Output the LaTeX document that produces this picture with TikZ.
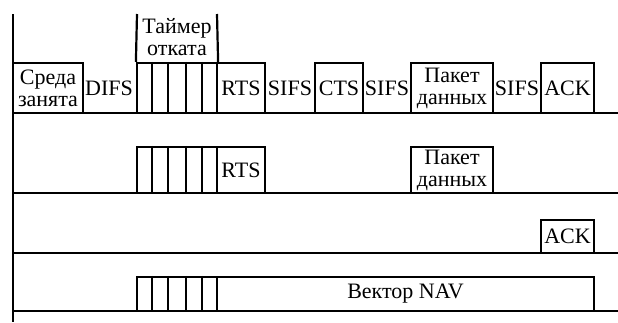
\documentclass[tikz,border=0pt]{standalone}
\usepackage{fontspec}
\setmainfont{Liberation Serif}
\usetikzlibrary{calc}
\begin{document}
\begin{tikzpicture}[x=1pt,y=-1pt,line width=2.2pt,
  txt/.style={inner sep=0pt,align=center,font=\fontsize{22}{22}\selectfont},
  box/.style={txt,draw},
  slotline/.style={line width=2pt}]
\useasboundingbox (0,0) rectangle (618,322);
% axis and baselines
\coordinate (vtop) at (13,14);
\coordinate (vbot) at (13,322);
\draw (vtop) -- (vbot);
\foreach \y/\n in {113/1,193/2,253/3,311/4}{
  \coordinate (bl\n) at (13,\y);
  \coordinate (br\n) at (618,\y);
  \draw (bl\n) -- (br\n);
}
% ---------- row 1 ----------
\node[box,minimum width=70,minimum height=50] (busy) at (48,88) {Среда\\занята};
\node[txt] (difs) at (109,88) {DIFS};
\node[box,minimum width=80,minimum height=50] (bo1) at (177,88) {};
\foreach \p in {0.2,0.39,0.61,0.8}
  \draw[slotline] ($(bo1.north west)!\p!(bo1.north east)$) -- ($(bo1.south west)!\p!(bo1.south east)$);
\coordinate (tl) at (137,14);
\coordinate (tr) at (217,14);
\draw (tl) -- (bo1.north west);
\draw (tr) -- (bo1.north east);
\node[txt] (timer) at (177,37) {Таймер\\отката};
\node[box,minimum width=48,minimum height=50] (rts1) at (241,88) {RTS};
\node[txt] (sifs1) at (290,88) {SIFS};
\node[box,minimum width=48,minimum height=50] (cts1) at (339,88) {CTS};
\node[txt] (sifs2) at (387,88) {SIFS};
\node[box,minimum width=82,minimum height=50] (data1) at (452,88) {Пакет\\данных};
\node[txt] (sifs3) at (517,88) {SIFS};
\node[box,minimum width=53,minimum height=50] (ack1) at (567.5,88) {ACK};
% ---------- row 2 ----------
\node[box,minimum width=80,minimum height=46] (bo2) at (177,170) {};
\foreach \p in {0.2,0.39,0.61,0.8}
  \draw[slotline] ($(bo2.north west)!\p!(bo2.north east)$) -- ($(bo2.south west)!\p!(bo2.south east)$);
\node[box,minimum width=48,minimum height=46] (rts2) at (241,170) {RTS};
\node[box,minimum width=82,minimum height=46] (data2) at (452,170) {Пакет\\данных};
% ---------- row 3 ----------
\node[box,minimum width=53,minimum height=33] (ack3) at (567.5,236.5) {ACK};
% ---------- row 4 ----------
\node[box,minimum width=80,minimum height=34] (bo4) at (177,294) {};
\foreach \p in {0.2,0.39,0.61,0.8}
  \draw[slotline] ($(bo4.north west)!\p!(bo4.north east)$) -- ($(bo4.south west)!\p!(bo4.south east)$);
\node[box,minimum width=377,minimum height=34] (nav) at (405.5,294) {Вектор NAV};
\end{tikzpicture}
\end{document}
